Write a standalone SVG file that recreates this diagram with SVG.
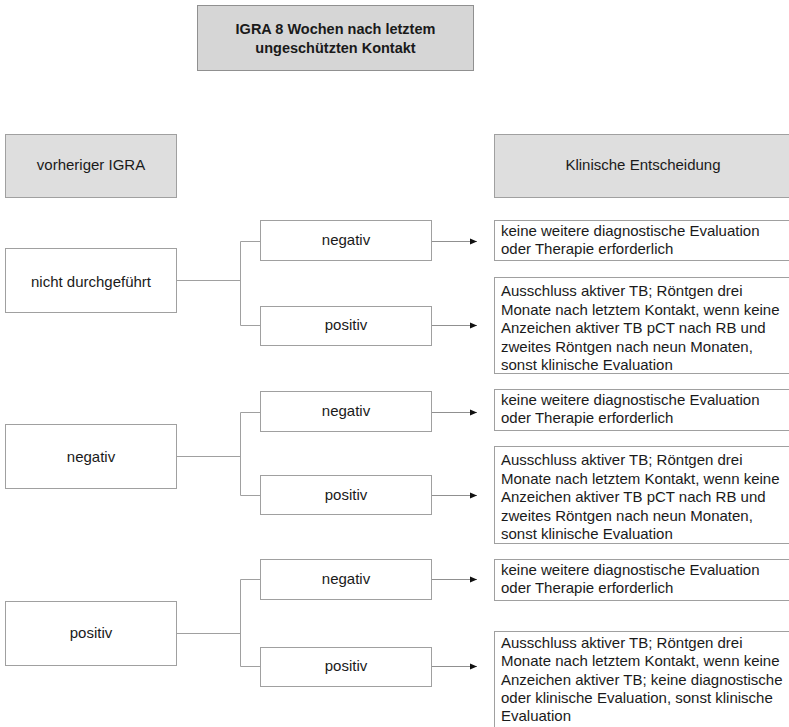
<svg xmlns="http://www.w3.org/2000/svg" width="789" height="727" viewBox="0 0 789 727">
<defs>
<style>
.box{fill:#ffffff;stroke:#a0a0a0;stroke-width:1}
.hdr{fill:#dedede;stroke:#a0a0a0;stroke-width:1}
.ttl{fill:#d6d6d6;stroke:#909090;stroke-width:1}
text{font-family:"Liberation Sans",Arial,sans-serif;font-size:15px;fill:#1a1a1a}
.c{text-anchor:middle}
.b{font-weight:bold;font-size:14.5px}
.ln{fill:none;stroke:#a0a0a0;stroke-width:1}
.ar{fill:none;stroke:#909090;stroke-width:1;marker-end:url(#ah)}
</style>
<marker id="ah" viewBox="0 0 8 8" refX="7" refY="4" markerWidth="8" markerHeight="8" markerUnits="userSpaceOnUse" orient="auto">
<path d="M0,1 L7,4 L0,7 z" fill="#111"/>
</marker>
</defs>
<rect width="789" height="727" fill="#ffffff"/>

<g id="title">
<rect class="ttl" x="197.5" y="5.5" width="276" height="65"/>
<text class="c b" x="335.5" y="34">IGRA 8 Wochen nach letztem</text>
<text class="c b" x="335.5" y="53">ungeschützten Kontakt</text>
</g>
<g id="hdr-left">
<rect class="hdr" x="5.5" y="134.5" width="171" height="63"/>
<text class="c" x="91" y="170">vorheriger IGRA</text>
</g>
<g id="hdr-right">
<rect class="hdr" x="494.5" y="134.5" width="300" height="63"/>
<text class="c" x="643" y="170">Klinische Entscheidung</text>
</g>

<g id="connectors">
<path class="ln" d="M177,280.5 H240.5 M240.5,241.5 V325.5 M240.5,241.5 H260 M240.5,325.5 H260"/>
<path class="ln" d="M177,456.5 H240.5 M240.5,412.5 V495.5 M240.5,412.5 H260 M240.5,495.5 H260"/>
<path class="ln" d="M177,633.5 H240.5 M240.5,579.5 V666.5 M240.5,579.5 H260 M240.5,666.5 H260"/>
<path class="ar" d="M432,241.5 H477"/>
<path class="ar" d="M432,325.5 H477"/>
<path class="ar" d="M432,412.5 H477"/>
<path class="ar" d="M432,495.5 H477"/>
<path class="ar" d="M432,579.5 H477"/>
<path class="ar" d="M432,666.5 H477"/>
</g>

<g id="n1">
<rect class="box" x="5.5" y="248.5" width="171" height="64"/>
<text class="c" x="91" y="287">nicht durchgeführt</text>
</g>
<g id="n1-neg">
<rect class="box" x="260.5" y="220.5" width="171" height="40"/>
<text class="c" x="346" y="245">negativ</text>
</g>
<g id="n1-pos">
<rect class="box" x="260.5" y="306.5" width="171" height="39"/>
<text class="c" x="346" y="330">positiv</text>
</g>
<g id="r1a">
<rect class="box" x="494.5" y="220.5" width="300" height="40"/>
<text x="501" y="236">keine weitere diagnostische Evaluation</text>
<text x="501" y="254">oder Therapie erforderlich</text>
</g>
<g id="r1b">
<rect class="box" x="494.5" y="277.5" width="300" height="96"/>
<text x="501" y="296">Ausschluss aktiver TB; Röntgen drei</text>
<text x="501" y="314.5">Monate nach letztem Kontakt, wenn keine</text>
<text x="501" y="333">Anzeichen aktiver TB pCT nach RB und</text>
<text x="501" y="351.5">zweites Röntgen nach neun Monaten,</text>
<text x="501" y="370">sonst klinische Evaluation</text>
</g>

<g id="n2">
<rect class="box" x="5.5" y="424.5" width="171" height="64"/>
<text class="c" x="91" y="462">negativ</text>
</g>
<g id="n2-neg">
<rect class="box" x="260.5" y="391.5" width="171" height="40"/>
<text class="c" x="346" y="416">negativ</text>
</g>
<g id="n2-pos">
<rect class="box" x="260.5" y="475.5" width="171" height="39"/>
<text class="c" x="346" y="500">positiv</text>
</g>
<g id="r2a">
<rect class="box" x="494.5" y="389.5" width="300" height="41"/>
<text x="501" y="405">keine weitere diagnostische Evaluation</text>
<text x="501" y="423">oder Therapie erforderlich</text>
</g>
<g id="r2b">
<rect class="box" x="494.5" y="446.5" width="300" height="97"/>
<text x="501" y="465">Ausschluss aktiver TB; Röntgen drei</text>
<text x="501" y="483.5">Monate nach letztem Kontakt, wenn keine</text>
<text x="501" y="502">Anzeichen aktiver TB pCT nach RB und</text>
<text x="501" y="520.5">zweites Röntgen nach neun Monaten,</text>
<text x="501" y="539">sonst klinische Evaluation</text>
</g>

<g id="n3">
<rect class="box" x="5.5" y="601.5" width="171" height="64"/>
<text class="c" x="91" y="638">positiv</text>
</g>
<g id="n3-neg">
<rect class="box" x="260.5" y="559.5" width="171" height="40"/>
<text class="c" x="346" y="584">negativ</text>
</g>
<g id="n3-pos">
<rect class="box" x="260.5" y="647.5" width="171" height="39"/>
<text class="c" x="346" y="671">positiv</text>
</g>
<g id="r3a">
<rect class="box" x="494.5" y="559.5" width="300" height="41"/>
<text x="501" y="575">keine weitere diagnostische Evaluation</text>
<text x="501" y="593">oder Therapie erforderlich</text>
</g>
<g id="r3b">
<rect class="box" x="494.5" y="631.5" width="300" height="110"/>
<text x="501" y="648">Ausschluss aktiver TB; Röntgen drei</text>
<text x="501" y="666">Monate nach letztem Kontakt, wenn keine</text>
<text x="501" y="684.5">Anzeichen aktiver TB; keine diagnostische</text>
<text x="501" y="703">oder klinische Evaluation, sonst klinische</text>
<text x="501" y="721">Evaluation</text>
</g>
</svg>
